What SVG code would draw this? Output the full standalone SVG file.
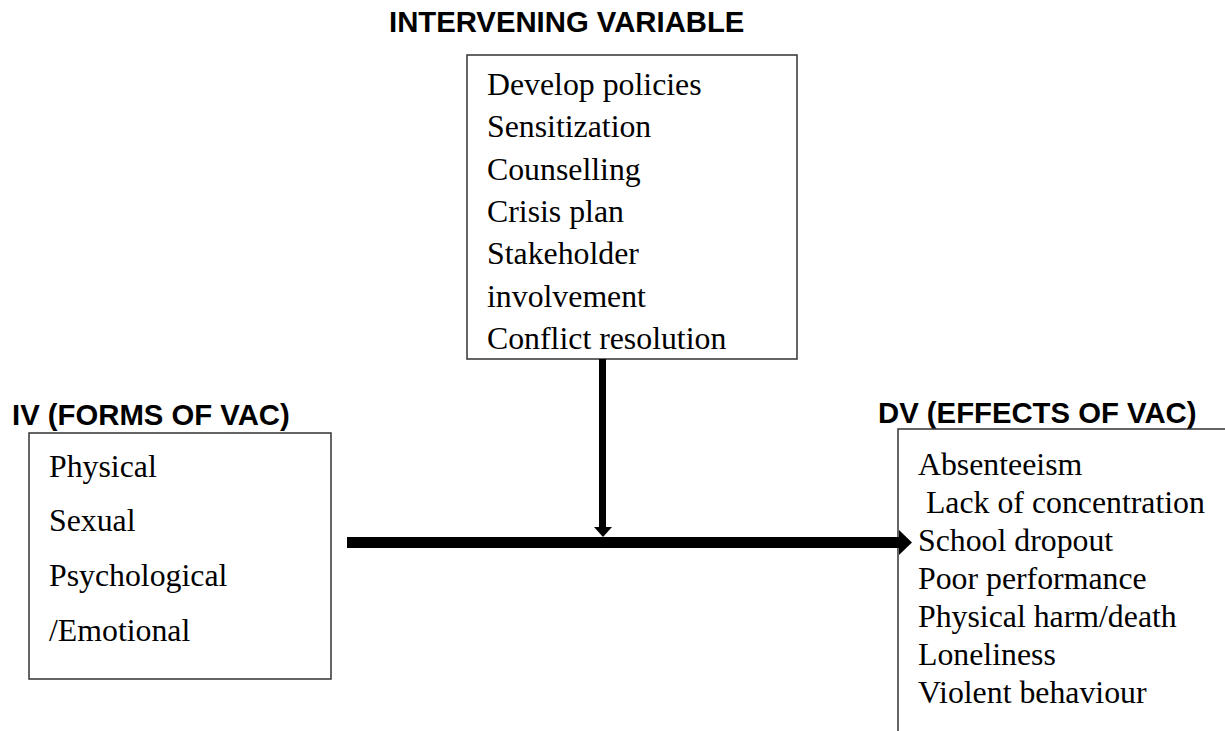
<svg xmlns="http://www.w3.org/2000/svg" width="1225" height="731" viewBox="0 0 1225 731">
<style>
.title{font-family:"Liberation Sans",Arial,sans-serif;font-weight:bold;font-size:29.3px;fill:#000}
.item{font-family:"Liberation Serif","Times New Roman",serif;font-size:31.8px;fill:#000}
.box{fill:#fff;stroke:#333;stroke-width:1.5}
</style>
<rect width="1225" height="731" fill="#fff"/>
<g id="intervening">
<text class="title" x="389" y="32">INTERVENING VARIABLE</text>
<rect class="box" x="467" y="55" width="330" height="304"/>
<text class="item" x="487" y="95">Develop policies</text>
<text class="item" x="487" y="137">Sensitization</text>
<text class="item" x="487" y="180">Counselling</text>
<text class="item" x="487" y="222">Crisis plan</text>
<text class="item" x="487" y="264">Stakeholder</text>
<text class="item" x="487" y="307">involvement</text>
<text class="item" x="487" y="349">Conflict resolution</text>
</g>
<g id="iv">
<text class="title" x="12" y="425">IV (FORMS OF VAC)</text>
<rect class="box" x="29" y="433" width="302" height="246"/>
<text class="item" x="49" y="477">Physical</text>
<text class="item" x="49" y="531">Sexual</text>
<text class="item" x="49" y="586">Psychological</text>
<text class="item" x="49" y="641">/Emotional</text>
</g>
<g id="dv">
<text class="title" x="878" y="423">DV (EFFECTS OF VAC)</text>
<path d="M1226 429 H898 V732" fill="none" stroke="#333" stroke-width="1.5"/>
<text class="item" x="918" y="475">Absenteeism</text>
<text class="item" x="918" y="513" xml:space="preserve"> Lack of concentration</text>
<text class="item" x="918" y="551">School dropout</text>
<text class="item" x="918" y="589">Poor performance</text>
<text class="item" x="918" y="627">Physical harm/death</text>
<text class="item" x="918" y="665">Loneliness</text>
<text class="item" x="918" y="703">Violent behaviour</text>
</g>
<g id="connectors">
<rect x="347" y="537" width="554" height="11" fill="#000"/>
<polygon points="899,530 912,542.5 899,555" fill="#000"/>
<rect x="599" y="359" width="7" height="170" fill="#000"/>
<polygon points="594,527 612,527 603,537" fill="#000"/>
</g>
</svg>
